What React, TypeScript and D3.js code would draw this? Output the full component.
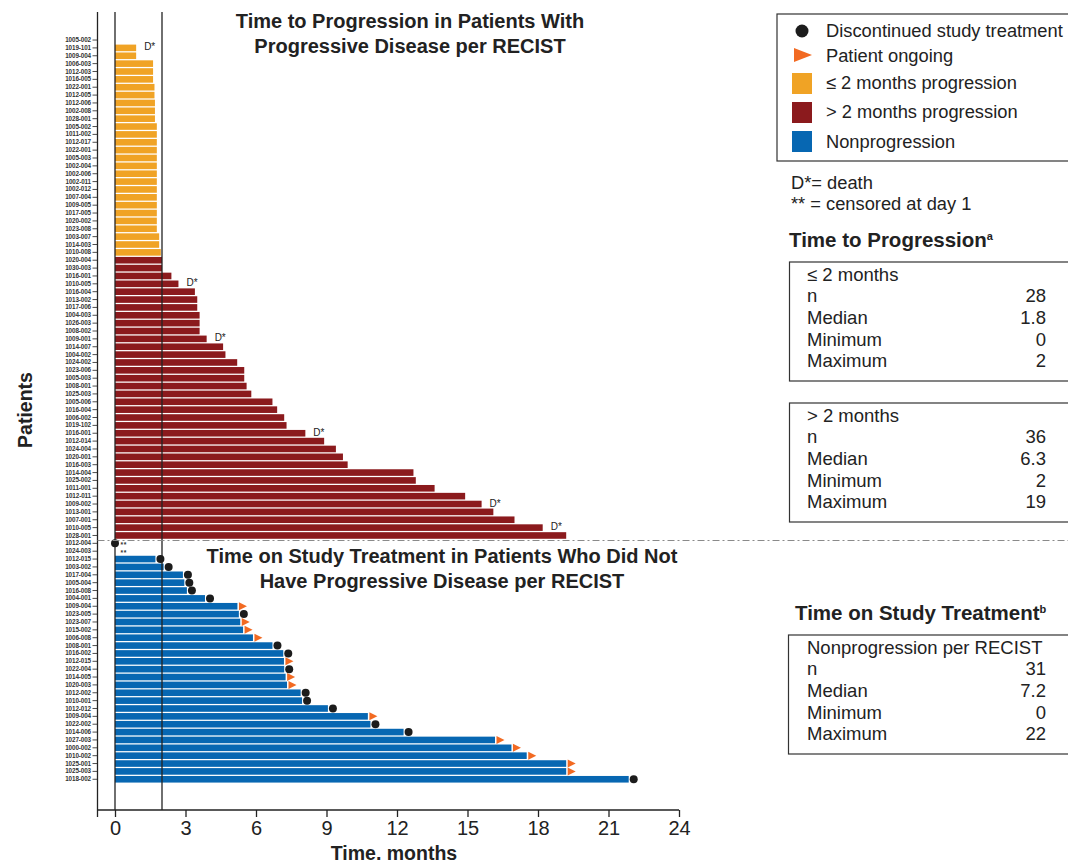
import React, { useRef, useEffect } from 'react';
import * as d3 from 'd3';

// ≤ 2 months progression
const orangeIds = ['1005-002', '1019-101', '1009-004', '1006-003', '1012-003', '1016-005', '1022-001', '1012-005', '1012-006', '1002-008', '1028-001', '1005-002', '1011-002', '1012-017', '1022-001', '1005-003', '1002-004', '1002-006', '1002-011', '1002-012', '1007-004', '1009-005', '1017-005', '1020-002', '1023-008', '1003-007', '1014-003', '1010-008'];
const orangeVals = [0, 0.9, 0.9, 1.62, 1.62, 1.62, 1.68, 1.68, 1.7, 1.7, 1.7, 1.78, 1.78, 1.78, 1.78, 1.78, 1.78, 1.78, 1.78, 1.78, 1.78, 1.78, 1.78, 1.78, 1.78, 1.88, 1.88, 1.95];
const orangeDeaths = [1];

// > 2 months progression
const redIds = ['1020-004', '1030-003', '1016-001', '1010-005', '1016-004', '1013-002', '1017-006', '1004-003', '1026-003', '1008-002', '1009-001', '1014-007', '1004-002', '1024-002', '1023-006', '1005-003', '1008-001', '1025-003', '1005-006', '1016-004', '1006-002', '1019-102', '1016-001', '1012-014', '1024-004', '1020-001', '1016-003', '1014-004', '1025-002', '1011-001', '1012-011', '1009-002', '1013-001', '1007-001', '1010-005', '1028-001'];
const redVals = [2.0, 2.0, 2.4, 2.7, 3.4, 3.5, 3.5, 3.6, 3.6, 3.6, 3.9, 4.6, 4.7, 5.2, 5.5, 5.5, 5.6, 5.8, 6.7, 6.9, 7.2, 7.3, 8.1, 8.9, 9.4, 9.7, 9.9, 12.7, 12.8, 13.6, 14.9, 15.6, 16.1, 17.0, 18.2, 19.2];
const redDeaths = [3, 10, 22, 31, 34];

// censored at day 1
const censoredIds = ['1012-004', '1024-003'];
const censoredDots = [true, false];

// nonprogression, time on study treatment
const blueIds = ['1012-015', '1003-002', '1017-004', '1005-004', '1016-008', '1004-001', '1009-004', '1023-005', '1023-007', '1015-002', '1006-008', '1008-001', '1016-002', '1012-015', '1022-004', '1014-005', '1020-003', '1012-002', '1010-001', '1012-012', '1009-004', '1022-002', '1014-006', '1027-003', '1000-002', '1010-002', '1025-001', '1025-003', '1018-002'];
const blueVals = [1.72, 2.07, 2.89, 2.95, 3.06, 3.83, 5.21, 5.27, 5.33, 5.45, 5.87, 6.7, 7.16, 7.19, 7.2, 7.26, 7.32, 7.9, 7.96, 9.06, 10.76, 10.87, 12.28, 16.17, 16.87, 17.52, 19.2, 19.2, 21.86];
const blueMarkers = ['dot', 'dot', 'dot', 'dot', 'dot', 'dot', 'tri', 'dot', 'tri', 'tri', 'tri', 'dot', 'dot', 'tri', 'dot', 'tri', 'tri', 'dot', 'dot', 'dot', 'tri', 'dot', 'dot', 'tri', 'tri', 'tri', 'tri', 'tri', 'dot'];

const xTicks = [0, 3, 6, 9, 12, 15, 18, 21, 24];

const statsLow = [['n', '28'], ['Median', '1.8'], ['Minimum', '0'], ['Maximum', '2']];
const statsHigh = [['n', '36'], ['Median', '6.3'], ['Minimum', '2'], ['Maximum', '19']];
const statsNon = [['n', '31'], ['Median', '7.2'], ['Minimum', '0'], ['Maximum', '22']];

const ORANGE = '#f0a325';
const RED = '#8b1a1d';
const BLUE = '#0767b2';
const TRI = '#f26a22';
const DOT = '#1c1c1c';
const FONT = '"Liberation Sans", Arial, Helvetica, sans-serif';

const Chart = () => {
  const ref = useRef(null);

  useEffect(() => {
    const width = 1076;
    const height = 868;
    d3.select(ref.current).selectAll('*').remove();

    const svg = d3.select(ref.current)
      .append('svg')
      .attr('width', width)
      .attr('height', height)
      .style('display', 'block')
      .style('font-family', FONT);

    // rows, top to bottom
    const rows = [
      ...orangeIds.map((id, i) => ({ id, value: orangeVals[i], color: ORANGE, death: orangeDeaths.includes(i), marker: null, censored: false, dot: false })),
      ...redIds.map((id, i) => ({ id, value: redVals[i], color: RED, death: redDeaths.includes(i), marker: null, censored: false, dot: false })),
      ...censoredIds.map((id, i) => ({ id, value: 0, color: BLUE, death: false, marker: null, censored: true, dot: censoredDots[i] })),
      ...blueIds.map((id, i) => ({ id, value: blueVals[i], color: BLUE, death: false, marker: blueMarkers[i], censored: false, dot: false })),
    ];

    const x = d3.scaleLinear().domain([0, 24]).range([115, 679]);
    const y = d3.scaleBand<number>()
      .domain(d3.range(rows.length))
      .range([36.1, 783.2])
      .paddingInner(0.16)
      .paddingOuter(0.08);
    const yc = (i) => y(i) + y.bandwidth() / 2;

    const axisX = 97.5;
    const plotTop = 12;
    const plotBottom = 810;

    // bars
    svg.append('g')
      .selectAll('rect')
      .data(rows.filter(d => !d.censored && d.value > 0))
      .enter()
      .append('rect')
      .attr('x', x(0))
      .attr('y', d => y(rows.indexOf(d)))
      .attr('width', d => x(d.value) - x(0))
      .attr('height', y.bandwidth())
      .attr('fill', d => d.color);

    // reference lines at 0 and 2 months
    [0, 2].forEach(v => {
      svg.append('line')
        .attr('x1', x(v)).attr('x2', x(v))
        .attr('y1', plotTop).attr('y2', plotBottom)
        .attr('stroke', '#222').attr('stroke-width', 1.3);
    });

    // y axis with patient labels
    const yAxis = d3.axisLeft(y)
      .tickSize(5)
      .tickSizeOuter(0)
      .tickFormat(i => rows[i].id);
    const ya = svg.append('g')
      .attr('transform', `translate(${axisX},0)`)
      .call(yAxis);
    ya.select('.domain').remove();
    ya.selectAll('.tick line').attr('stroke', '#222').attr('stroke-width', 0.8);
    ya.selectAll('.tick text')
      .attr('x', -6.5)
      .attr('font-family', FONT)
      .attr('font-size', 6.3)
      .attr('font-weight', 'bold')
      .attr('letter-spacing', -0.1)
      .attr('fill', '#333');
    svg.append('line')
      .attr('x1', axisX).attr('x2', axisX)
      .attr('y1', plotTop).attr('y2', 817)
      .attr('stroke', '#222').attr('stroke-width', 1.3);

    // x axis
    const xa = svg.append('g')
      .attr('transform', `translate(0,${plotBottom})`)
      .call(d3.axisBottom(x).tickValues(xTicks).tickSize(7).tickSizeOuter(0));
    xa.select('.domain')
      .attr('d', `M${axisX},0H${x(24)}`)
      .attr('stroke', '#222').attr('stroke-width', 1.3);
    xa.selectAll('.tick line').attr('stroke', '#222').attr('stroke-width', 1.3);
    xa.selectAll('.tick text')
      .attr('y', 11)
      .attr('font-family', FONT)
      .attr('font-size', 20)
      .attr('fill', '#222');

    svg.append('text')
      .attr('x', 394).attr('y', 860)
      .attr('text-anchor', 'middle')
      .attr('font-size', 19.5).attr('font-weight', 'bold').attr('fill', '#222')
      .text('Time, months');

    svg.append('text')
      .attr('transform', 'translate(32,410) rotate(-90)')
      .attr('text-anchor', 'middle')
      .attr('font-size', 19.5).attr('font-weight', 'bold').attr('fill', '#222')
      .text('Patients');

    // death labels
    svg.append('g')
      .selectAll('text')
      .data(rows.filter(d => d.death))
      .enter()
      .append('text')
      .attr('x', d => x(d.value) + 8)
      .attr('y', d => yc(rows.indexOf(d)) + 2.5)
      .attr('font-size', 10).attr('fill', '#222')
      .text('D*');

    // censored rows: dot at day 1 and "**"
    rows.forEach((d, i) => {
      if (!d.censored) return;
      if (d.dot) {
        svg.append('circle').attr('cx', x(0)).attr('cy', yc(i)).attr('r', 4).attr('fill', DOT);
      }
      svg.append('text')
        .attr('x', x(0) + 5.5).attr('y', yc(i) + 3.5)
        .attr('font-size', 6.8).attr('font-weight', 'bold')
        .attr('letter-spacing', 0.6).attr('fill', '#333')
        .text('**');
    });

    // end-of-bar markers
    rows.forEach((d, i) => {
      if (!d.marker) return;
      const ex = x(d.value);
      if (d.marker === 'dot') {
        svg.append('circle').attr('cx', ex + 5).attr('cy', yc(i)).attr('r', 4).attr('fill', DOT);
      } else {
        const c = yc(i);
        svg.append('path')
          .attr('d', `M${ex + 1.5},${c - 4}L${ex + 9.5},${c}L${ex + 1.5},${c + 4}Z`)
          .attr('fill', TRI);
      }
    });

    // separator between groups
    svg.append('line')
      .attr('x1', axisX).attr('x2', width)
      .attr('y1', 540.5).attr('y2', 540.5)
      .attr('stroke', '#8a8a8a').attr('stroke-width', 1)
      .attr('stroke-dasharray', '7,3,2,3');

    // panel titles
    const title = (lines, cx, y0) => {
      lines.forEach((t, k) => {
        svg.append('text')
          .attr('x', cx).attr('y', y0 + k * 25)
          .attr('text-anchor', 'middle')
          .attr('font-size', 20).attr('font-weight', 'bold').attr('fill', '#222')
          .text(t);
      });
    };
    title(['Time to Progression in Patients With', 'Progressive Disease per RECIST'], 410, 28);
    title(['Time on Study Treatment in Patients Who Did Not', 'Have Progressive Disease per RECIST'], 442, 563);

    // legend
    const lg = svg.append('g');
    lg.append('rect')
      .attr('x', 777).attr('y', 14).attr('width', 297).attr('height', 147)
      .attr('fill', 'none').attr('stroke', '#333').attr('stroke-width', 1.2);
    lg.append('circle').attr('cx', 802).attr('cy', 31).attr('r', 6.5).attr('fill', DOT);
    lg.append('path').attr('d', 'M794,48L812,55L794,62Z').attr('fill', TRI);
    [[ORANGE, 73], [RED, 102], [BLUE, 131]].forEach(([c, yy]) => {
      lg.append('rect').attr('x', 792).attr('y', yy).attr('width', 20).attr('height', 21).attr('fill', c);
    });
    const legendItems = [
      ['Discontinued study treatment', 37],
      ['Patient ongoing', 62],
      ['≤ 2 months progression', 89],
      ['> 2 months progression', 118],
      ['Nonprogression', 148],
    ];
    legendItems.forEach(([t, yy]) => {
      lg.append('text').attr('x', 826).attr('y', yy)
        .attr('font-size', 18.3).attr('fill', '#222').text(t);
    });
    svg.append('text').attr('x', 791).attr('y', 189).attr('font-size', 18.3).attr('fill', '#222').text('D*= death');
    svg.append('text').attr('x', 791).attr('y', 210).attr('font-size', 18.3).attr('fill', '#222').text('** = censored at day 1');

    // stats tables
    const heading = (t, sup, hx, hy) => {
      const tx = svg.append('text').attr('x', hx).attr('y', hy)
        .attr('font-size', 20.5).attr('font-weight', 'bold').attr('fill', '#222');
      tx.append('tspan').text(t);
      tx.append('tspan').attr('font-size', 11).attr('dy', -7).text(sup);
    };
    const table = (head, stats, bx, by, bw) => {
      svg.append('rect')
        .attr('x', bx).attr('y', by).attr('width', bw).attr('height', 119)
        .attr('fill', 'none').attr('stroke', '#333').attr('stroke-width', 1.2);
      svg.append('text').attr('x', 807).attr('y', by + 18.5)
        .attr('font-size', 18.5).attr('fill', '#222').text(head);
      stats.forEach(([k, v], j) => {
        const yy = by + 40.3 + j * 21.6;
        svg.append('text').attr('x', 807).attr('y', yy).attr('font-size', 18.5).attr('fill', '#222').text(k);
        svg.append('text').attr('x', 1046).attr('y', yy).attr('text-anchor', 'end')
          .attr('font-size', 18.5).attr('fill', '#222').text(v);
      });
    };
    heading('Time to Progression', 'a', 789, 247);
    table('≤ 2 months', statsLow, 789.5, 262, 282);
    table('> 2 months', statsHigh, 789.5, 403, 282);
    heading('Time on Study Treatment', 'b', 795, 620);
    table('Nonprogression per RECIST', statsNon, 788.5, 635, 282);
  }, []);

  return <div ref={ref}></div>;
};

export default function App() {
  return (
    <div style={{ margin: -8 }}>
      <Chart />
    </div>
  );
}
